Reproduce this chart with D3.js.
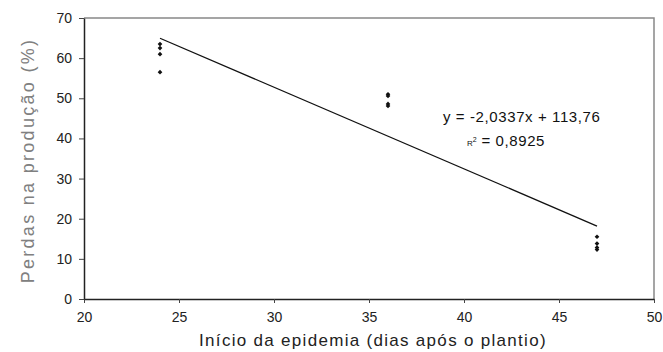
<!DOCTYPE html>
<html>
<head>
<meta charset="utf-8">
<script src="https://cdn.jsdelivr.net/npm/d3@7"></script>
<style>
  body { margin: 0; background: #fff; }
  text { font-family: "Liberation Sans", Arial, sans-serif; }
</style>
</head>
<body>
<div id="chart"></div>
<script>
// Observed points (days to epidemic onset, yield loss %)
const xDays = [24, 24, 24, 24, 36, 36, 36, 36, 47, 47, 47, 47];
const yLoss = [63.5, 62.5, 61, 56.5, 51, 50.6, 48.6, 48.1, 15.5, 13.8, 12.8, 12.3];
const xTicks = [20, 25, 30, 35, 40, 45, 50];
const yTicks = [0, 10, 20, 30, 40, 50, 60, 70];
const slope = -2.0337;
const intercept = 113.76;
const fitRange = [24, 47];

const data = xDays.map((d, i) => ({ x: d, y: yLoss[i] }));

const W = 663, H = 352;
const margin = { top: 18, right: 9, bottom: 53, left: 84 };
const width = W - margin.left - margin.right;
const height = H - margin.top - margin.bottom;

const svg = d3.select('#chart')
    .append('svg')
    .attr('width', W)
    .attr('height', H);

const g = svg.append('g')
    .attr('transform', `translate(${margin.left},${margin.top})`);

const x = d3.scaleLinear().domain([20, 50]).range([0, width]);
const y = d3.scaleLinear().domain([0, 70]).range([height, 0]);

// gray frame on top and right
g.append('path')
    .attr('d', `M0,0H${width}V${height}`)
    .attr('fill', 'none')
    .attr('stroke', '#888')
    .attr('stroke-width', 1.5);

const xAxis = g.append('g')
    .attr('transform', `translate(0,${height})`)
    .call(d3.axisBottom(x).tickValues(xTicks).tickSize(4).tickSizeOuter(0).tickPadding(9));
const yAxis = g.append('g')
    .call(d3.axisLeft(y).tickValues(yTicks).tickSize(5).tickSizeOuter(0).tickPadding(7));

[xAxis, yAxis].forEach(ax => {
    ax.select('.domain').attr('stroke', '#222').attr('stroke-width', 1.5);
    ax.selectAll('.tick line').attr('stroke', '#444');
    ax.selectAll('text')
        .attr('font-size', 14)
        .attr('fill', '#222')
        .style('font-family', '"Liberation Sans", Arial, sans-serif');
});

// regression line
g.append('line')
    .attr('x1', x(fitRange[0]))
    .attr('y1', y(slope * fitRange[0] + intercept))
    .attr('x2', x(fitRange[1]))
    .attr('y2', y(slope * fitRange[1] + intercept))
    .attr('stroke', '#111')
    .attr('stroke-width', 1.3);

// diamond markers
g.selectAll('.pt')
    .data(data)
    .enter()
    .append('path')
    .attr('class', 'pt')
    .attr('d', d3.symbol().type(d3.symbolDiamond2).size(14))
    .attr('transform', d => `translate(${x(d.x)},${y(d.y)})`)
    .attr('fill', '#111');

// equation
g.append('text')
    .attr('x', 443 - margin.left)
    .attr('y', 122 - margin.top)
    .attr('font-size', 15)
    .attr('letter-spacing', 0.6)
    .attr('fill', '#111')
    .text('y = -2,0337x + 113,76');

const r2 = g.append('text')
    .attr('x', 467 - margin.left)
    .attr('y', 146 - margin.top)
    .attr('fill', '#111');
r2.append('tspan').attr('font-size', 8).text('R');
r2.append('tspan').attr('font-size', 7).attr('dy', -4).text('2');
r2.append('tspan').attr('font-size', 15).attr('dy', 4).attr('letter-spacing', 0.6).text(' = 0,8925');

// axis titles
svg.append('text')
    .attr('x', margin.left + width / 2 + 4)
    .attr('y', 346)
    .attr('text-anchor', 'middle')
    .attr('font-size', 17)
    .attr('letter-spacing', 1.3)
    .attr('fill', '#222')
    .text('Início da epidemia (dias após o plantio)');

svg.append('text')
    .attr('transform', `translate(34,${margin.top + height / 2 + 2}) rotate(-90)`)
    .attr('text-anchor', 'middle')
    .attr('font-size', 18)
    .attr('letter-spacing', 2.3)
    .attr('fill', '#808080')
    .text('Perdas na produção  (%)');
</script>
</body>
</html>
